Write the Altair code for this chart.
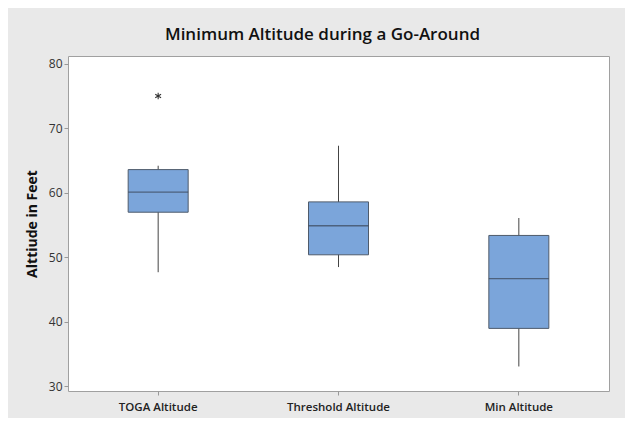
import altair as alt
import pandas as pd

categories = ["TOGA Altitude", "Threshold Altitude", "Min Altitude"]
whisker_low = [47.7, 48.5, 33.1]
q1 = [57.0, 50.4, 39.0]
median = [60.1, 54.9, 46.7]
q3 = [63.6, 58.6, 53.4]
whisker_high = [64.2, 67.3, 56.1]
outlier_cat = ["TOGA Altitude"]
outlier_val = [75.0]

df = pd.DataFrame({
    "cat": categories,
    "lo": whisker_low,
    "q1": q1,
    "med": median,
    "q3": q3,
    "hi": whisker_high,
})
out_df = pd.DataFrame({"cat": outlier_cat, "val": outlier_val})

xenc = alt.X("cat:N", sort=categories, title=None,
             scale=alt.Scale(paddingInner=0, paddingOuter=0),
             axis=alt.Axis(labelAngle=0, labelFontSize=11.5, labelColor="#222222",
                           labelFont="Open Sans", labelFontWeight=600,
                           tickSize=4, tickColor="#999999", domain=False, labelPadding=6))
yscale = alt.Scale(domain=[29.3, 81.2], nice=False, zero=False)
yaxis = alt.Axis(values=[30, 40, 50, 60, 70, 80], title="Alttiude in Feet",
                 titleFont="Open Sans", titleFontSize=14, titleFontWeight="bold",
                 titleColor="#111111", titlePadding=9,
                 labelFont="Open Sans", labelFontSize=12, labelColor="#333333",
                 tickSize=4, tickColor="#999999", domain=False, grid=False, labelPadding=2)

base = alt.Chart(df)

whiskers = base.mark_rule(color="#444444", strokeWidth=1).encode(
    x=xenc,
    y=alt.Y("lo:Q", scale=yscale, axis=yaxis),
    y2="hi:Q",
)
boxes = base.mark_bar(size=60, fill="#7BA5DA", stroke="#4F5B6B", strokeWidth=1).encode(
    x=xenc,
    y=alt.Y("q1:Q", scale=yscale, axis=yaxis),
    y2="q3:Q",
)
medians = base.mark_tick(size=60, thickness=1.3, color="#3A4657", orient="horizontal").encode(
    x=xenc,
    y=alt.Y("med:Q", scale=yscale, axis=yaxis),
)
star_path = "M0,-1L0,1M-0.87,-0.5L0.87,0.5M-0.87,0.5L0.87,-0.5"
outliers = alt.Chart(out_df).mark_point(shape=star_path, size=45, stroke="#333333",
                                        strokeWidth=1.1, filled=False, opacity=1).encode(
    x=xenc,
    y=alt.Y("val:Q", scale=yscale, axis=yaxis),
)

chart = alt.layer(whiskers, boxes, medians, outliers).properties(
    width=541,
    height=335,
    autosize=alt.AutoSizeParams(type="none"),
    padding={"left": 60, "top": 48, "right": 16, "bottom": 27},
    background="#E9E9E9",
    title=alt.TitleParams("Minimum Altitude during a Go-Around", font="Open Sans",
                          fontSize=17, fontWeight=600, color="#111111",
                          anchor="middle", offset=12, dx=-16),
).configure_view(fill="white", stroke="#A0A0A0", strokeWidth=1)

chart.save("out.html", embed_options={"renderer": "svg", "actions": False})
